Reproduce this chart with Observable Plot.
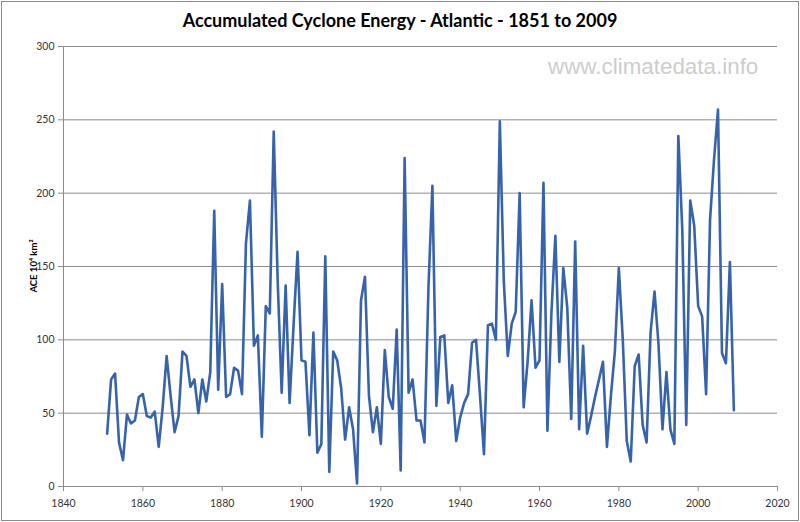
<!DOCTYPE html>
<html>
<head>
<meta charset="utf-8">
<script src="https://cdn.jsdelivr.net/npm/d3@7"></script>
<script src="https://cdn.jsdelivr.net/npm/@observablehq/plot@0.6"></script>
<style>
  body { margin: 0; background: #fff; }
  #wrap { position: relative; width: 800px; height: 522px; overflow: hidden; }
  #border { position: absolute; left: 1px; top: 1px; width: 796px; height: 518px; border: 1px solid #8c8c8c; pointer-events: none; }
  #title { position: absolute; left: 0; top: 9px; width: 800px; text-align: center; font: bold 18px Lato, "Open Sans", sans-serif; color: #000; }
  #wm { position: absolute; left: 548px; top: 54px; font: 22.4px "Liberation Sans", Arial, sans-serif; color: #cdcdcd; }
</style>
</head>
<body>
<div id="wrap">
  <div id="chart"></div>
  <div id="title"></div>
  <div id="wm"></div>
  <div id="border"></div>
</div>
<script>
const title = "Accumulated Cyclone Energy - Atlantic - 1851 to 2009";
const watermark = "www.climatedata.info";
const yLabel = "ACE 10\u2074 km\u00B2";
const xTicks = [1840, 1860, 1880, 1900, 1920, 1940, 1960, 1980, 2000, 2020];
const yTicks = [0, 50, 100, 150, 200, 250, 300];
const startYear = 1851;
const ace = [
  36, 73, 77, 30, 18, 49, 43, 45, 61,            // 1851-1859
  63, 48, 47, 51, 27, 54, 89, 62, 37, 48,        // 1860-1869
  92, 89, 68, 73, 50, 73, 58, 78, 188, 66,       // 1870-1879
  138, 61, 63, 81, 79, 63, 166, 195, 96, 103,    // 1880-1889
  34, 123, 118, 242, 140, 64, 137, 57, 110, 160, // 1890-1899
  86, 85, 35, 105, 23, 29, 157, 10, 92, 86,      // 1900-1909
  67, 32, 54, 39, 2, 127, 143, 62, 37, 54,       // 1910-1919
  29, 93, 61, 53, 107, 11, 224, 64, 73, 45,      // 1920-1929
  45, 30, 135, 205, 55, 102, 103, 57, 69, 31,    // 1930-1939
  47, 57, 63, 98, 100, 62, 22, 110, 111, 100,    // 1940-1949
  249, 140, 89, 111, 119, 200, 54, 85, 127, 81,  // 1950-1959
  86, 207, 38, 118, 171, 85, 149, 122, 46, 167,  // 1960-1969
  39, 96, 36, 48, 61, 73, 85, 27, 62, 92,        // 1970-1979
  149, 100, 31, 17, 82, 90, 42, 30, 105, 133,    // 1980-1989
  97, 39, 78, 39, 29, 239, 175, 42, 195, 178,    // 1990-1999
  123, 116, 63, 182, 223, 257, 91, 84, 153, 52   // 2000-2009
];
const data = ace.map((v, i) => ({year: startYear + i, ace: v}));

document.getElementById("title").textContent = title;
document.getElementById("wm").textContent = watermark;

const grid = "#8c8c8c";
const svg = Plot.plot({
  width: 800,
  height: 522,
  marginLeft: 63,
  marginRight: 23,
  marginTop: 46,
  marginBottom: 36,
  style: {fontFamily: "Lato, 'Open Sans', sans-serif", fontSize: "10.5px", color: "#333", background: "transparent", overflow: "visible"},
  x: {domain: [1840, 2020]},
  y: {domain: [0, 300]},
  marks: [
    Plot.ruleY(yTicks, {stroke: grid, strokeWidth: 1}),
    Plot.ruleX([1840], {stroke: grid, strokeWidth: 1}),
    Plot.axisY({ticks: yTicks, tickSize: 5, tickPadding: 4, stroke: grid, fill: "#333", label: null}),
    Plot.axisX({ticks: xTicks, tickSize: 5, tickPadding: 8, stroke: grid, fill: "#333", label: null, tickFormat: d => String(d)}),
    Plot.line(data, {x: "year", y: "ace", stroke: "#3763ad", strokeWidth: 2.6, strokeLinejoin: "round"})
  ]
});
d3.select(svg).append("text")
  .attr("transform", "translate(37,266) rotate(-90)")
  .attr("text-anchor", "middle")
  .attr("font-family", "Lato, 'Open Sans', sans-serif")
  .attr("font-weight", "bold")
  .attr("font-size", "9.5px")
  .attr("fill", "#000")
  .text(yLabel);
document.getElementById("chart").appendChild(svg);
</script>
</body>
</html>
